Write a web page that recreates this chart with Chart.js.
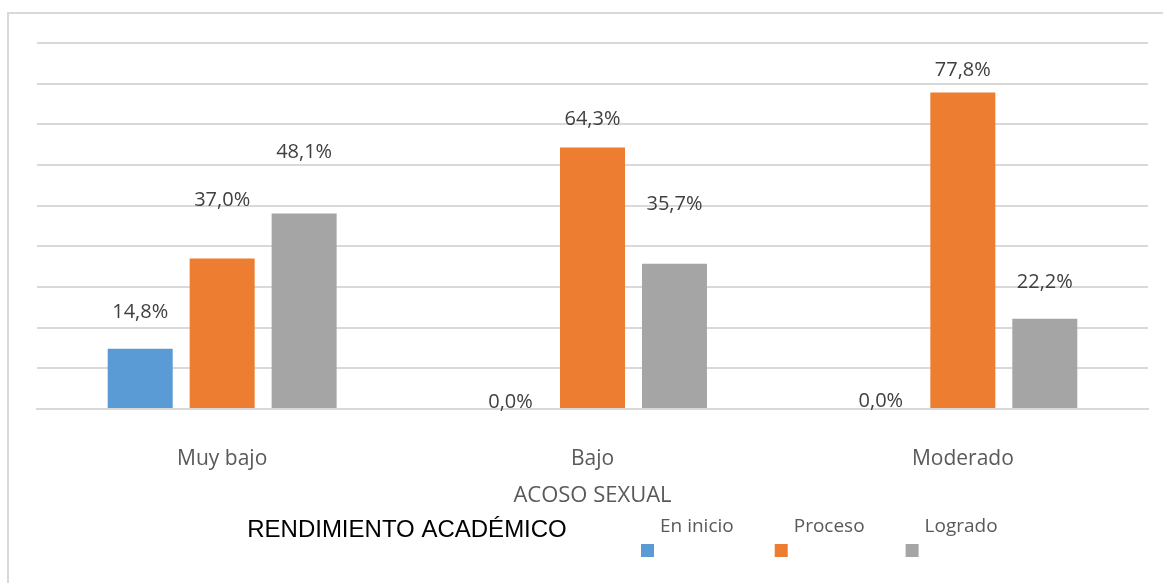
<!DOCTYPE html>
<html>
<head>
<meta charset="utf-8">
<script src="https://cdn.jsdelivr.net/npm/chart.js@4.4.0/dist/chart.umd.min.js"></script>
<style>
  html, body { margin: 0; padding: 0; background: #fff; }
  #wrap { width: 1163px; height: 583px; }
</style>
</head>
<body>
<div id="wrap"><canvas id="grafico" width="1163" height="583"></canvas></div>
<script>
const categorias = ['Muy bajo', 'Bajo', 'Moderado'];
const enInicio = [14.8, 0.0, 0.0];
const proceso = [37.0, 64.3, 77.8];
const logrado = [48.1, 35.7, 22.2];
const nombresSeries = ['En inicio', 'Proceso', 'Logrado'];
const tituloEje = 'ACOSO SEXUAL';
const tituloLeyenda = 'RENDIMIENTO ACADÉMICO';

const colores = ['#5B9BD5', '#ED7D31', '#A5A5A5'];
const textoGris = '#595959';
const fuente = '"Open Sans", "Noto Sans", sans-serif';

// how far each value label sits above its bar (px), as in the picture
const labelLift = [
    [37, 7, 8],
    [58, 28, 22],
    [61, 60, 36],
];

const marco = {
    id: 'marco',
    beforeDraw(chart) {
        const ctx = chart.ctx;
        ctx.save();
        ctx.fillStyle = '#D9D9D9';
        ctx.fillRect(7, 12, 2, chart.height - 12);
        ctx.fillRect(7, 12, chart.width - 7, 2);
        ctx.restore();
    }
};

const etiquetas = {
    id: 'etiquetas',
    afterDatasetsDraw(chart) {
        const ctx = chart.ctx;
        ctx.save();
        ctx.font = '20px ' + fuente;
        ctx.fillStyle = '#404040';
        ctx.textAlign = 'center';
        ctx.textBaseline = 'middle';
        chart.data.datasets.forEach((ds, i) => {
            chart.getDatasetMeta(i).data.forEach((bar, j) => {
                const txt = ds.data[j].toFixed(1).replace('.', ',') + '%';
                ctx.fillText(txt, bar.x, bar.y - labelLift[i][j]);
            });
        });
        ctx.restore();
    }
};

const leyenda = {
    id: 'leyenda',
    afterDraw(chart) {
        const ctx = chart.ctx;
        ctx.save();
        ctx.font = '24px "Liberation Sans", Arial, sans-serif';
        ctx.fillStyle = '#000';
        ctx.textAlign = 'center';
        ctx.textBaseline = 'middle';
        ctx.fillText(tituloLeyenda, 407, 530);

        ctx.font = '19px ' + fuente;
        ctx.textAlign = 'left';
        let x = 641;
        chart.data.datasets.forEach((ds) => {
            ctx.fillStyle = ds.backgroundColor;
            ctx.fillRect(x, 544, 13, 13);
            ctx.fillStyle = textoGris;
            ctx.fillText(ds.label, x + 19, 527);
            x += 19 + ctx.measureText(ds.label).width + 41;
        });
        ctx.restore();
    }
};

const series = [enInicio, proceso, logrado];
const datasets = series.map((valores, i) => ({
    label: nombresSeries[i],
    data: valores,
    backgroundColor: colores[i],
    categoryPercentage: 0.664,
    barPercentage: 0.793,
}));

new Chart(document.getElementById('grafico').getContext('2d'), {
    type: 'bar',
    data: {
        labels: categorias,
        datasets: datasets,
    },
    options: {
        responsive: false,
        animation: false,
        layout: { padding: { left: 37, right: 15, top: 43, bottom: 74 } },
        plugins: {
            legend: { display: false },
            tooltip: { enabled: false },
        },
        scales: {
            x: {
                grid: { display: false, drawTicks: false },
                border: { display: true, color: '#D9D9D9', width: 2 },
                ticks: {
                    color: textoGris,
                    font: { family: fuente, size: 21 },
                    padding: 37,
                },
                title: {
                    display: true,
                    text: tituloEje,
                    color: textoGris,
                    font: { family: fuente, size: 22 },
                    padding: { top: 0, bottom: 0 },
                },
                afterFit(scale) { scale.height = 100; },
            },
            y: {
                min: 0,
                max: 90,
                ticks: { display: false, stepSize: 10 },
                grid: { color: '#D9D9D9', lineWidth: 2, drawTicks: false },
                border: { display: false },
            },
        },
    },
    plugins: [marco, etiquetas, leyenda],
});
</script>
</body>
</html>
